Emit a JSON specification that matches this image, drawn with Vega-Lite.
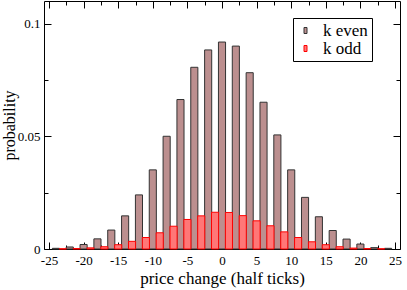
{
  "$schema": "https://vega.github.io/schema/vega-lite/v6.json",
  "width": 356,
  "height": 248,
  "autosize": "none",
  "padding": {"left": 44, "top": 1, "right": 7, "bottom": 41},
  "background": "white",
  "config": {
    "font": "Liberation Serif",
    "view": {"stroke": "black", "strokeWidth": 1},
    "axis": {"labelFont": "Liberation Serif", "titleFont": "Liberation Serif", "labelColor": "black", "titleColor": "black", "tickColor": "black", "grid": false, "domain": false, "labelFontSize": 13, "titleFontSize": 17, "titleFontWeight": "normal"}
  },
  "data": {"values": [
    {"k": -24, "p": 0.0003, "parity": "k even"},
    {"k": -22, "p": 0.0009, "parity": "k even"},
    {"k": -20, "p": 0.0020, "parity": "k even"},
    {"k": -18, "p": 0.0045, "parity": "k even"},
    {"k": -16, "p": 0.0084, "parity": "k even"},
    {"k": -14, "p": 0.0147, "parity": "k even"},
    {"k": -12, "p": 0.0240, "parity": "k even"},
    {"k": -10, "p": 0.0351, "parity": "k even"},
    {"k": -8, "p": 0.0500, "parity": "k even"},
    {"k": -6, "p": 0.0663, "parity": "k even"},
    {"k": -4, "p": 0.0806, "parity": "k even"},
    {"k": -2, "p": 0.0883, "parity": "k even"},
    {"k": 0, "p": 0.0918, "parity": "k even"},
    {"k": 2, "p": 0.0900, "parity": "k even"},
    {"k": 4, "p": 0.0782, "parity": "k even"},
    {"k": 6, "p": 0.0651, "parity": "k even"},
    {"k": 8, "p": 0.0506, "parity": "k even"},
    {"k": 10, "p": 0.0351, "parity": "k even"},
    {"k": 12, "p": 0.0229, "parity": "k even"},
    {"k": 14, "p": 0.0143, "parity": "k even"},
    {"k": 16, "p": 0.0082, "parity": "k even"},
    {"k": 18, "p": 0.0044, "parity": "k even"},
    {"k": 20, "p": 0.0022, "parity": "k even"},
    {"k": 22, "p": 0.0006, "parity": "k even"},
    {"k": 24, "p": 0.0003, "parity": "k even"},
    {"k": -23, "p": 0.0001, "parity": "k odd"},
    {"k": -21, "p": 0.0002, "parity": "k odd"},
    {"k": -19, "p": 0.0005, "parity": "k odd"},
    {"k": -17, "p": 0.0010, "parity": "k odd"},
    {"k": -15, "p": 0.0019, "parity": "k odd"},
    {"k": -13, "p": 0.0034, "parity": "k odd"},
    {"k": -11, "p": 0.0051, "parity": "k odd"},
    {"k": -9, "p": 0.0072, "parity": "k odd"},
    {"k": -7, "p": 0.0101, "parity": "k odd"},
    {"k": -5, "p": 0.0131, "parity": "k odd"},
    {"k": -3, "p": 0.0147, "parity": "k odd"},
    {"k": -1, "p": 0.0163, "parity": "k odd"},
    {"k": 1, "p": 0.0162, "parity": "k odd"},
    {"k": 3, "p": 0.0148, "parity": "k odd"},
    {"k": 5, "p": 0.0125, "parity": "k odd"},
    {"k": 7, "p": 0.0103, "parity": "k odd"},
    {"k": 9, "p": 0.0076, "parity": "k odd"},
    {"k": 11, "p": 0.0051, "parity": "k odd"},
    {"k": 13, "p": 0.0032, "parity": "k odd"},
    {"k": 15, "p": 0.0019, "parity": "k odd"},
    {"k": 17, "p": 0.0010, "parity": "k odd"},
    {"k": 19, "p": 0.0004, "parity": "k odd"},
    {"k": 21, "p": 0.0002, "parity": "k odd"},
    {"k": 23, "p": 0.0001, "parity": "k odd"}
  ]},
  "layer": [
    {
      "transform": [{"filter": "datum.parity == 'k even'"}],
      "mark": {"type": "bar", "width": 7.1, "strokeWidth": 1},
      "encoding": {
        "x": {"field": "k", "type": "quantitative", "scale": {"domain": [-25, 25], "nice": false},
          "axis": {"orient": "bottom", "title": "price change (half ticks)", "values": [-25,-22.5,-20,-17.5,-15,-12.5,-10,-7.5,-5,-2.5,0,2.5,5,7.5,10,12.5,15,17.5,20,22.5,25],
            "labelExpr": "datum.value % 5 == 0 ? '' + datum.value : ''",
            "labelFont": "Liberation Serif", "labelFontSize": 13, "titleFont": "Liberation Serif", "titleFontSize": 17,
            "tickSize": {"expr": "datum.value % 5 == 0 ? -7 : -4"}, "labelPadding": 12, "titlePadding": 3, "labelFlush": false}},
        "y": {"field": "p", "type": "quantitative", "scale": {"domain": [0, 0.11], "nice": false},
          "axis": {"orient": "left", "title": "probability", "values": [0, 0.025, 0.05, 0.075, 0.1],
            "labelExpr": "datum.value == 0 ? '0' : datum.value == 0.05 ? '0.05' : datum.value == 0.1 ? '0.1' : ''",
            "labelFont": "Liberation Serif", "labelFontSize": 13, "titleFont": "Liberation Serif", "titleFontSize": 16,
            "tickSize": {"expr": "(datum.value == 0.025 || datum.value == 0.075) ? -4 : -7"}, "labelPadding": 11, "titlePadding": 0}},
        "fill": {"field": "parity", "type": "nominal", "scale": {"domain": ["k even", "k odd"], "range": ["#bc8f8f", "#ff7777"]},
          "legend": {"orient": "none", "legendX": 249, "legendY": 17, "title": null, "strokeColor": "black", "fillColor": "white", "padding": 4, "labelFont": "Liberation Serif", "labelFontSize": 17, "labelColor": "black", "symbolType": "M-0.3,-0.6L0.3,-0.6L0.3,0.6L-0.3,0.6Z", "symbolSize": 100, "symbolStrokeWidth": 1, "rowPadding": 0, "labelOffset": 9, "cornerRadius": 0}},
        "stroke": {"field": "parity", "type": "nominal", "scale": {"domain": ["k even", "k odd"], "range": ["#333333", "#ff0000"]}}
      }
    },
    {
      "transform": [{"filter": "datum.parity == 'k odd'"}],
      "mark": {"type": "bar", "width": 7.1, "strokeWidth": 1},
      "encoding": {
        "x": {"field": "k", "type": "quantitative",
          "axis": {"orient": "top", "title": null, "labels": false, "values": [-25,-22.5,-20,-17.5,-15,-12.5,-10,-7.5,-5,-2.5,0,2.5,5,7.5,10,12.5,15,17.5,20,22.5,25],
            "tickSize": {"expr": "datum.value % 5 == 0 ? -7 : -4"}}},
        "y": {"field": "p", "type": "quantitative",
          "axis": {"orient": "right", "title": null, "labels": false, "values": [0, 0.025, 0.05, 0.075, 0.1],
            "tickSize": {"expr": "(datum.value == 0.025 || datum.value == 0.075) ? -4 : -7"}}},
        "fill": {"field": "parity", "type": "nominal"},
        "stroke": {"field": "parity", "type": "nominal"}
      }
    }
  ],
  "resolve": {"axis": {"x": "independent", "y": "independent"}}
}
